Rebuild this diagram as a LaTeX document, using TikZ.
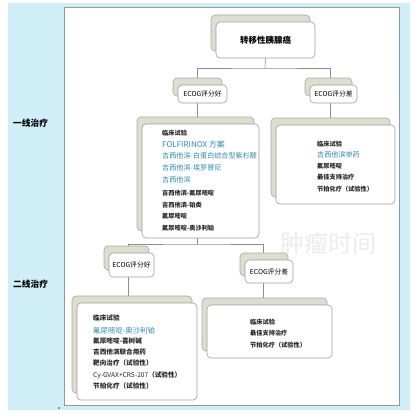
\documentclass[tikz,border=0pt]{standalone}
\usepackage{fontspec}
\setmainfont{Noto Sans CJK SC}
\usetikzlibrary{shadows}
\pgfdeclarelayer{bg}
\pgfdeclarelayer{lines}
\pgfsetlayers{bg,lines,main}
\definecolor{bgblue}{HTML}{CFEEF8}
\definecolor{panelline}{HTML}{8C9BA0}
\definecolor{shadowfill}{HTML}{DEDECF}
\definecolor{shadowline}{HTML}{A8A8A0}
\definecolor{boxline}{HTML}{9C9C9C}
\definecolor{connline}{HTML}{8E8E8E}
\definecolor{bluetext}{HTML}{2B8CB4}
\definecolor{wmark}{HTML}{ECECEC}
\tikzset{
  box/.style={draw=boxline, fill=white, rounded corners=4pt, line width=0.6pt, inner sep=0pt},
  sbox/.style={box, copy shadow={shadow xshift=-5pt, shadow yshift=7pt, fill=shadowfill, draw=shadowline}},
  conn/.style={draw=connline, line width=0.6pt},
  bt/.style={inner sep=0pt, anchor=west, text=black!85, font=\fontsize{6.2}{7}\selectfont\bfseries},
  bt2/.style={inner sep=0pt, anchor=west, text=black!85, font=\fontsize{6.6}{7.5}\selectfont\bfseries},
  blt/.style={inner sep=0pt, anchor=west, text=bluetext, font=\fontsize{7.1}{8}\selectfont},
  side/.style={inner sep=0pt, anchor=west, text=black, font=\fontsize{8.7}{10}\selectfont\bfseries},
  ecog/.style={sbox, font=\fontsize{6.8}{8}\selectfont},
}
\begin{document}
\begin{tikzpicture}[x=1pt,y=-1pt]
\useasboundingbox (0,0) rectangle (420,420);
\begin{pgfonlayer}{bg}
\fill[white] (0,0) rectangle (420,420);
\fill[bgblue] (8,3) rectangle (410,410);
\draw[fill=white, draw=panelline, line width=1pt] (64,8) rectangle (399,405);
\node[text=wmark, inner sep=0pt, font=\fontsize{24}{26}\selectfont] (wm) at (328.5,243) {肿瘤时间};
\end{pgfonlayer}

% nodes
\node[sbox, minimum width=99pt, minimum height=36pt, font=\fontsize{8.5}{10}\selectfont\bfseries] (title) at (265.5,40) {转移性胰腺癌};
\node[ecog, minimum width=49pt, minimum height=18pt] (ecogA) at (202.5,94) {ECOG评分好};
\node[ecog, minimum width=47pt, minimum height=18pt] (ecogB) at (333.5,94) {ECOG评分差};
\node[sbox, minimum width=117pt, minimum height=114pt] (box1) at (200.5,181) {};
\node[sbox, minimum width=119pt, minimum height=79pt] (box2) at (335.5,164.5) {};
\node[ecog, minimum width=45pt, minimum height=24pt] (ecogC) at (131.5,265) {ECOG评分好};
\node[ecog, minimum width=48pt, minimum height=23pt] (ecogD) at (269,271.5) {ECOG评分差};
\node[sbox, minimum width=120pt, minimum height=97pt] (box3) at (137,351.5) {};
\node[sbox, minimum width=125pt, minimum height=53pt] (box4) at (269.5,331.5) {};

% side labels
\node[side] (l1) at (13,123) {一线治疗};
\node[side] (l2) at (13,284) {二线治疗};

% box1 text
\node[bt] (a1t) at (162,133) {临床试验};
\node[blt, font=\fontsize{8}{9}\selectfont] (a2t) at (162,144) {FOLFIRINOX 方案};
\node[blt] (a3t) at (162,156) {吉西他滨-白蛋白结合型紫杉醇};
\node[blt] (a4t) at (162,168) {吉西他滨-埃罗替尼};
\node[blt] (a5t) at (162,180) {吉西他滨};
\node[bt] (a6t) at (162,193) {吉西他滨-氟尿嘧啶};
\node[bt] (a7t) at (162,205) {吉西他滨-铂类};
\node[bt] (a8t) at (162,216) {氟尿嘧啶};
\node[bt] (a9t) at (162,228) {氟尿嘧啶-奥沙利铂};

% box2 text
\node[bt] (b1t) at (317,144) {临床试验};
\node[blt] (b2t) at (317,155) {吉西他滨单药};
\node[bt] (b3t) at (317,166) {氟尿嘧啶};
\node[bt] (b4t) at (317,177) {最佳支持治疗};
\node[bt] (b5t) at (317,189) {节拍化疗（试验性）};

% box3 text
\node[bt2] (c1t) at (93,318) {临床试验};
\node[blt, font=\fontsize{7.4}{8}\selectfont] (c2t) at (93,331) {氟尿嘧啶-奥沙利铂};
\node[bt2] (c3t) at (93,341) {氟尿嘧啶-喜树碱};
\node[bt2] (c4t) at (93,352) {吉西他滨联合用药};
\node[bt2] (c5t) at (93,363) {靶向治疗（试验性）};
\node[bt2] (c6t) at (93,375) {\mdseries Cy-GVAX+CRS-207\bfseries（试验性）};
\node[bt2] (c7t) at (93,386) {节拍化疗（试验性）};

% box4 text
\node[bt] (d1t) at (250,322) {临床试验};
\node[bt] (d2t) at (250,333) {最佳支持治疗};
\node[bt] (d3t) at (250,345) {节拍化疗（试验性）};

\fill[black!80] (59,408) circle (0.9pt);

% connectors
\coordinate (j1) at (265,68);
\coordinate (j2) at (197.5,244);
\coordinate (pa) at ([xshift=-5pt]ecogA.center);
\coordinate (pb) at ([xshift=-3pt]ecogB.center);
\coordinate (pc) at ([xshift=-3.5pt]ecogC.center);
\coordinate (pd) at ([xshift=-6pt]ecogD.center);
\begin{pgfonlayer}{lines}
\draw[conn] (title.south) -- (j1);
\draw[conn] (pa) |- (j1) -| (pb);
\draw[conn] (pa) -- (pa |- box1.center);
\draw[conn] (pb) -- (pb |- box2.center);
\draw[conn] (pa |- box1.center) -- (j2);
\draw[conn] (pc) |- (j2) -| (pd);
\draw[conn] (pc) -- (pc |- box3.center);
\draw[conn] (pd) -- (pd |- box4.center);
\end{pgfonlayer}
\end{tikzpicture}
\end{document}
